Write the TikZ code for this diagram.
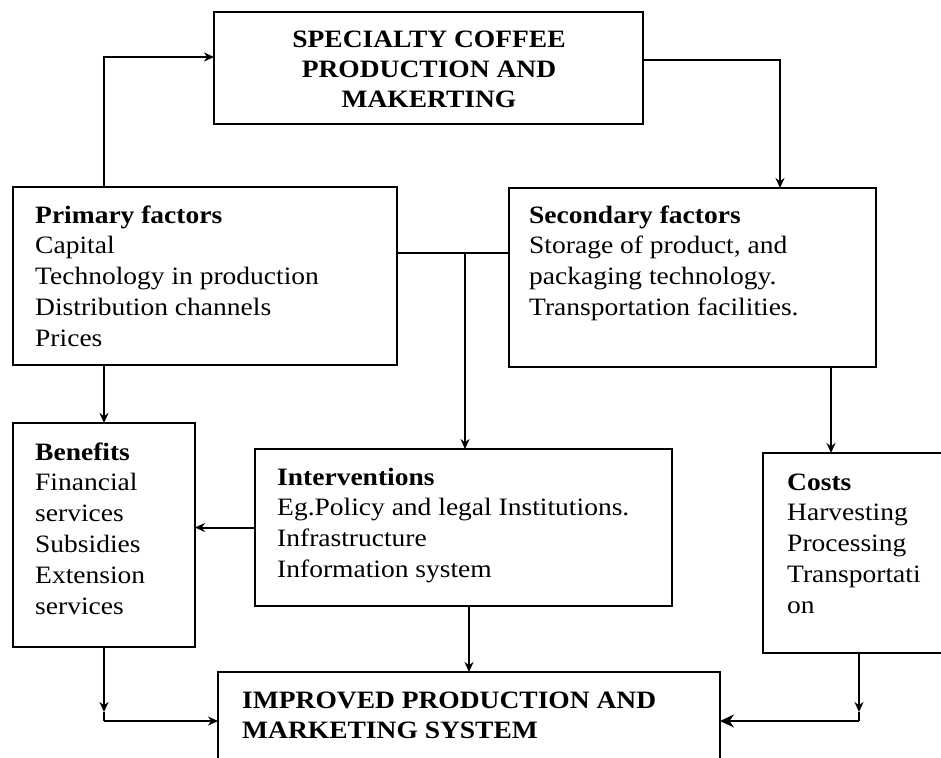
\documentclass[tikz,border=0pt]{standalone}
\usepackage{fontspec}
\setmainfont{Liberation Serif}[FakeStretch=1.1]
\usetikzlibrary{arrows.meta}
\begin{document}
\begin{tikzpicture}[x=1pt,y=-1pt,
  box/.style={draw, line width=2.1pt, inner sep=0pt, outer sep=0pt, anchor=north west},
  txt/.style={inner sep=0pt, font=\fontsize{25}{30.8}\selectfont},
  conn/.style={line width=2pt},
  arr/.style={conn, -{Stealth[length=10pt,width=9pt]}}]
\useasboundingbox (0,0) rectangle (941,757);
\clip (0,0) rectangle (941,757);

% boxes
\node[box, minimum width=429pt, minimum height=112pt] (top) at (214,12) {};
\node[box, minimum width=384pt, minimum height=178pt] (primary) at (13,187) {};
\node[box, minimum width=367pt, minimum height=179pt] (secondary) at (509,188) {};
\node[box, minimum width=182pt, minimum height=224pt] (benefits) at (13,423) {};
\node[box, minimum width=417pt, minimum height=157pt] (interv) at (255,449) {};
\node[box, minimum width=192pt, minimum height=200pt] (costs) at (763,453) {};
\node[box, minimum width=502pt, minimum height=98pt] (improved) at (218,672) {};

% texts
\node[txt, font=\fontsize{25}{30}\selectfont\bfseries, anchor=base] (topT) at (429,48)
  {\begin{tabular}[t]{@{}c@{}}SPECIALTY COFFEE\\PRODUCTION AND\\MAKERTING\end{tabular}};
\node[txt, anchor=base west] (primaryT) at (35,223)
  {\begin{tabular}[t]{@{}l@{}}\textbf{Primary factors}\\Capital\\Technology in production\\Distribution channels\\Prices\end{tabular}};
\node[txt, anchor=base west] (secondaryT) at (529,223)
  {\begin{tabular}[t]{@{}l@{}}\textbf{Secondary factors}\\Storage of product, and\\packaging technology.\\Transportation facilities.\end{tabular}};
\node[txt, anchor=base west] (benefitsT) at (35,460)
  {\begin{tabular}[t]{@{}l@{}}\textbf{Benefits}\\Financial\\services\\Subsidies\\Extension\\services\end{tabular}};
\node[txt, anchor=base west] (intervT) at (277,485)
  {\begin{tabular}[t]{@{}l@{}}\textbf{Interventions}\\Eg.Policy and legal Institutions.\\Infrastructure\\Information system\end{tabular}};
\node[txt, anchor=base west] (costsT) at (787,490)
  {\begin{tabular}[t]{@{}l@{}}\textbf{Costs}\\Harvesting\\Processing\\Transportati\\on\end{tabular}};
\node[txt, font=\fontsize{25}{30}\selectfont\bfseries, anchor=base west] (improvedT) at (242,708)
  {\begin{tabular}[t]{@{}l@{}}IMPROVED PRODUCTION AND\\MARKETING SYSTEM\end{tabular}};

% helper coordinates
\coordinate (tl) at (104,57);
\coordinate (tr) at (780,60);
\coordinate (mid) at (465,253);
\coordinate (sr) at (831,0);
\coordinate (kk) at (0,712);
\coordinate (cc) at (0,721);

% connectors
\draw[arr] (primary.north -| tl) -- (tl) -- (top.west |- tl);
\draw[arr] (top.east |- tr) -- (tr) -- (secondary.north -| tr);
\draw[conn] (primary.east |- mid) -- (secondary.west |- mid);
\draw[arr] (mid) -- (interv.north -| mid);
\draw[arr] (benefits.north |- primary.south) -- (benefits.north);
\draw[arr] (secondary.south -| sr) -- (costs.north -| sr);
\draw[arr] (interv.west) -- (benefits.east |- interv.west);
\draw[arr] (improved.north |- interv.south) -- (improved.north);
\draw[arr] (benefits.south) -- (benefits.south |- kk);
\draw[conn] (benefits.south |- kk) -- (benefits.south |- cc);
\draw[arr] (benefits.south |- cc) -- (improved.west |- cc);
\draw[arr] (costs.south) -- (costs.south |- kk);
\draw[conn] (costs.south |- kk) -- (costs.south |- cc);
\draw[conn, -{Stealth[length=14pt,width=13pt]}] (costs.south |- cc) -- (improved.east |- cc);
\end{tikzpicture}
\end{document}
